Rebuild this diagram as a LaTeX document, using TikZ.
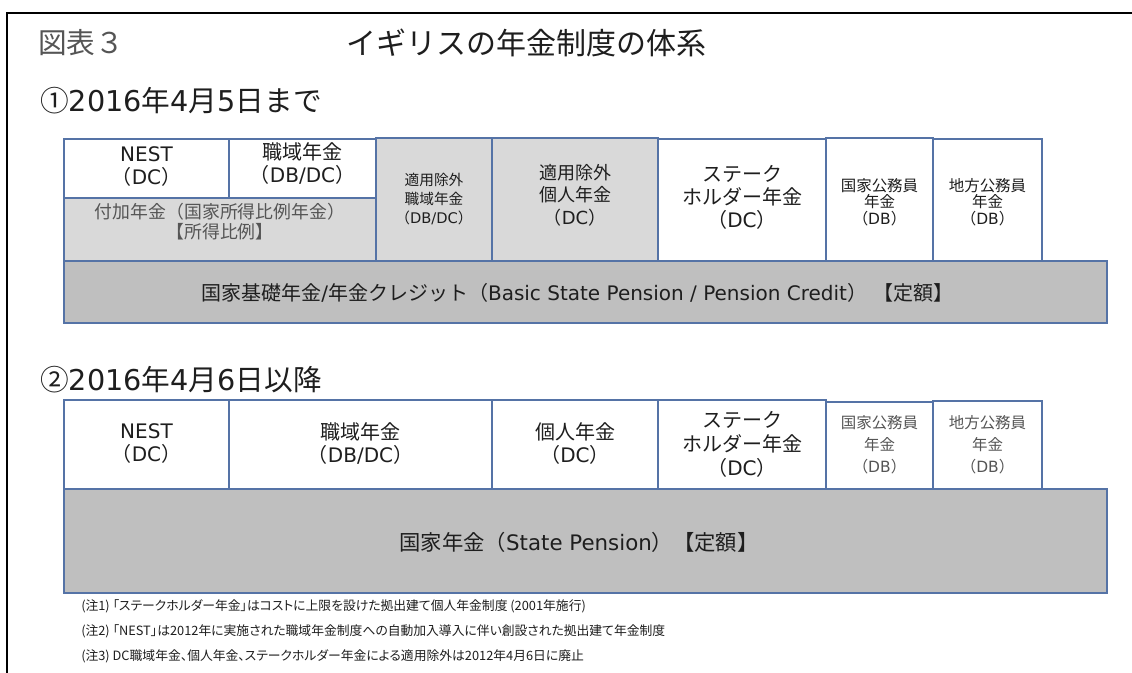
\documentclass[tikz,border=0pt]{standalone}
\usepackage{fontspec}
\setmainfont{Noto Sans CJK JP}
\newfontfamily\notefont[RawFeature=+palt]{Noto Sans CJK JP}
\newfontfamily\latf{DejaVu Sans}
\newcommand\la[1]{{\latf #1}}
\definecolor{bc}{HTML}{5573A6}
\definecolor{lg}{HTML}{D9D9D9}
\definecolor{dg}{HTML}{BFBFBF}
\definecolor{tx}{HTML}{1E1E1E}
\definecolor{gtx}{HTML}{555555}
\newcommand\cellbox[6]{\node[cellbox, fill=#6, minimum width={(#4-#2)*0.75pt}, minimum height={(#5-#3)*0.75pt}] (#1) at ({(#2+#4)/2},{(#3+#5)/2}) {};}
\begin{document}
\begin{tikzpicture}[x=0.75pt,y=-0.75pt,
  cellbox/.style={draw=bc, line width=0.9pt, inner sep=0pt, outer sep=0pt},
  txt/.style={align=center, inner sep=0pt, text=tx},
  big/.style={txt, font=\fontsize{15}{17.25}\selectfont},
  head/.style={inner sep=0pt, anchor=west, text=tx, font=\fontsize{21.5}{26}\selectfont},
  note/.style={inner sep=0pt, anchor=west, text=tx, font=\notefont\fontsize{9.6}{11}\selectfont}]
\useasboundingbox (0,0) rectangle (1132,673);
\fill[white] (0,0) rectangle (1132,673);
% frame
\draw[line width=1.8pt, black] (7,673) -- (7,13) -- (1132,13);
% headings
\node[head, text=gtx] (fig) at (38,43) {図表３};
\node[head, font=\fontsize{22.5}{26}\selectfont] (title) at (346,43) {イギリスの年金制度の体系};
\node[head] (h1) at (40,101) {①\la{2016}年\la{4}月\la{5}日まで};
\node[head] (h2) at (40,380) {②\la{2016}年\la{4}月\la{6}日以降};
% section 1 boxes
\cellbox{a1}{64}{139}{229}{198}{white}
\cellbox{a2}{229}{139}{376}{198}{white}
\cellbox{a3}{64}{198}{376}{261}{lg}
\cellbox{a4}{376}{138}{492}{261}{lg}
\cellbox{a5}{492}{138}{658}{261}{lg}
\cellbox{a6}{658}{139}{826}{261}{white}
\cellbox{a8}{933}{139}{1042}{261}{white}
\cellbox{a7}{826}{138}{933}{263}{white}
\cellbox{a9}{64}{261}{1107}{323}{dg}
\node[big] (ta1) at (146.5,166.5) {\la{NEST}\\（\la{DC}）};
\node[big] (ta2) at (302.5,163.5) {職域年金\\（\la{DB/DC}）};
\node[txt, text=gtx, font=\fontsize{13.4}{15}\selectfont] (ta3) at (220,222) {付加年金（国家所得比例年金）\\【所得比例】};
\node[txt, font=\fontsize{11}{14.25}\selectfont] (ta4) at (434,199) {適用除外\\職域年金\\（\la{DB/DC}）};
\node[txt, font=\fontsize{13.5}{16.9}\selectfont] (ta5) at (575,195) {適用除外\\個人年金\\（\la{DC}）};
\node[txt, font=\fontsize{15}{17}\selectfont] (ta6) at (742,197.5) {ステーク\\ホルダー年金\\（\la{DC}）};
\node[txt, font=\fontsize{11.6}{12.5}\selectfont] (ta7) at (879.5,202) {国家公務員\\年金\\（\la{DB}）};
\node[txt, font=\fontsize{11.6}{12.5}\selectfont] (ta8) at (987.5,202) {地方公務員\\年金\\（\la{DB}）};
\node[big] (ta9) at (577.5,293) {国家基礎年金\la{/}年金クレジット（\la{Basic State Pension / Pension Credit}）\hspace{5pt}【定額】};
% section 2 boxes
\cellbox{b1}{64}{400}{229}{489}{white}
\cellbox{b2}{229}{400}{492}{489}{white}
\cellbox{b3}{492}{400}{658}{489}{white}
\cellbox{b4}{658}{400}{826}{489}{white}
\cellbox{b5}{826}{402}{933}{489}{white}
\cellbox{b6}{933}{401}{1042}{489}{white}
\cellbox{b7}{64}{489}{1107}{593}{dg}
\node[big] (tb1) at (146.5,443.5) {\la{NEST}\\（\la{DC}）};
\node[big] (tb2) at (360.5,443.5) {職域年金\\（\la{DB/DC}）};
\node[big] (tb3) at (575,443.5) {個人年金\\（\la{DC}）};
\node[txt, font=\fontsize{15}{18}\selectfont] (tb4) at (742,444) {ステーク\\ホルダー年金\\（\la{DC}）};
\node[txt, text=gtx, font=\fontsize{11.6}{16.5}\selectfont] (tb5) at (879.5,445) {国家公務員\\年金\\（\la{DB}）};
\node[txt, text=gtx, font=\fontsize{11.6}{16.5}\selectfont] (tb6) at (987.5,445) {地方公務員\\年金\\（\la{DB}）};
\node[txt, font=\fontsize{16}{18}\selectfont] (tb7) at (579,542) {国家年金（\la{State Pension}）【定額】};
% notes
\node[note] (n1) at (81,606) {(注1) 「ステークホルダー年金」はコストに上限を設けた拠出建て個人年金制度 (2001年施行)};
\node[note] (n2) at (81,631) {(注2) 「NEST」は2012年に実施された職域年金制度への自動加入導入に伴い創設された拠出建て年金制度};
\node[note] (n3) at (81,656) {(注3) DC職域年金、個人年金、ステークホルダー年金による適用除外は2012年4月6日に廃止};
\end{tikzpicture}
\end{document}
